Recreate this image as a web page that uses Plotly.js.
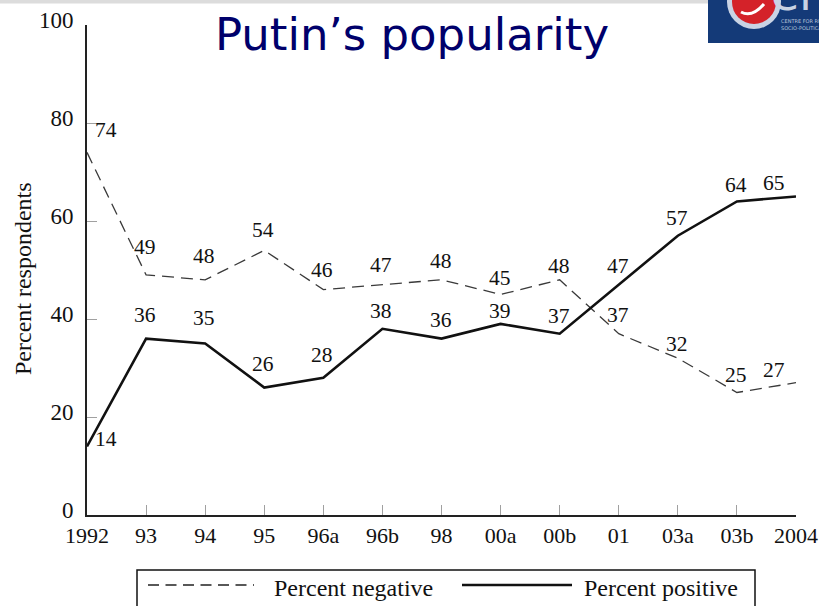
<!DOCTYPE html>
<html><head><meta charset="utf-8">
<script src="https://cdn.plot.ly/plotly-3.0.1.min.js"></script>
<style>html,body{margin:0;padding:0;background:#fff;}#chart{width:819px;height:606px;}</style>
</head><body><div id="chart"></div>
<script>
// ---- data ----
const periods = ['1992','93','94','95','96a','96b','98','00a','00b','01','03a','03b','2004'];
const percentNegative = [74,49,48,54,46,47,48,45,48,37,32,25,27];
const percentPositive = [14,36,35,26,28,38,36,39,37,47,57,64,65];
const yTickValues = [0,20,40,60,80,100];
const seriesNames = ['Percent negative','Percent positive'];

// ---- label offsets (style, px) ----
const negLabelDy = [22,28,24,20,20,20,19,17,14,19,14,18,13];
const posLabelDy = [7,24,26,24,23,18,19,13,18,19,18,16,14];
function labelDx(i){ return i === 0 ? 19 : (i === periods.length-1 ? -22 : -1); }

const SERIF = '"Liberation Serif", "Times New Roman", serif';
const SANS = '"DejaVu Sans", Verdana, sans-serif';
// pixel -> paper helpers (plot area 87..796 x, 25..515 y)
const PL = 87, PR = 796, PT = 25, PB = 515;
const px = p => (p - PL) / (PR - PL);
const py = p => (PB - p) / (PB - PT);

const traces = [
  {x: periods, y: percentNegative, type: 'scatter', mode: 'lines', name: seriesNames[0],
   line: {color: '#3a3a3a', width: 1.3, dash: '12px,7px'}, showlegend: false, hoverinfo: 'skip'},
  {x: periods, y: percentPositive, type: 'scatter', mode: 'lines', name: seriesNames[1],
   line: {color: '#111', width: 2.6}, showlegend: false, hoverinfo: 'skip'}
];

const annotations = [];
// category axis: annotations placed by category index (numeric-looking names would be misread)
percentNegative.forEach((v, i) => annotations.push({
  x: i, y: v, xref: 'x', yref: 'y', text: String(v), showarrow: false,
  xshift: labelDx(i), yshift: negLabelDy[i], xanchor: 'center', yanchor: 'middle',
  font: {family: SERIF, size: 21.5, color: '#111'}
}));
percentPositive.forEach((v, i) => annotations.push({
  x: i, y: v, xref: 'x', yref: 'y', text: String(v), showarrow: false,
  xshift: labelDx(i), yshift: posLabelDy[i], xanchor: 'center', yanchor: 'middle',
  font: {family: SERIF, size: 21.5, color: '#111'}
}));
// y axis title
annotations.push({x: px(23), y: py(279), xref: 'paper', yref: 'paper', text: 'Percent respondents',
  textangle: -90, showarrow: false, xanchor: 'center', yanchor: 'middle',
  font: {family: SERIF, size: 24, color: '#111'}});
// legend texts
annotations.push({x: px(272), y: py(588), xref: 'paper', yref: 'paper', text: seriesNames[0],
  showarrow: false, xanchor: 'left', yanchor: 'middle', font: {family: SERIF, size: 24, color: '#111'}});
annotations.push({x: px(582), y: py(588), xref: 'paper', yref: 'paper', text: seriesNames[1],
  showarrow: false, xanchor: 'left', yanchor: 'middle', font: {family: SERIF, size: 24, color: '#111'}});
// logo texts
annotations.push({x: px(769), y: py(23), xref: 'paper', yref: 'paper', text: 'er',
  showarrow: false, xanchor: 'left', yanchor: 'bottom', font: {family: SANS, size: 46, color: '#c9d3e4'}});
annotations.push({x: px(779), y: py(21), xref: 'paper', yref: 'paper', text: 'CENTRE FOR RUSSIAN',
  showarrow: false, xanchor: 'left', yanchor: 'middle', font: {family: SANS, size: 5, color: '#b9c5da'}});
annotations.push({x: px(779), y: py(28), xref: 'paper', yref: 'paper', text: 'SOCIO-POLITICAL RESEARCH',
  showarrow: false, xanchor: 'left', yanchor: 'middle', font: {family: SANS, size: 5, color: '#b9c5da'}});

const shapes = [
  // top grey band
  {type: 'rect', xref: 'paper', yref: 'paper', x0: px(-2), x1: px(712), y0: py(3.5), y1: py(-2),
   fillcolor: '#dcdcdc', line: {width: 0}, layer: 'above'},
  // logo block
  {type: 'rect', xref: 'paper', yref: 'paper', x0: px(708), x1: px(822), y0: py(43), y1: py(-2),
   fillcolor: '#143a78', line: {width: 0}, layer: 'above'},
  {type: 'circle', xref: 'paper', yref: 'paper', x0: px(727), x1: px(781), y0: py(29), y1: py(-25),
   fillcolor: '#c9d3e4', line: {width: 0}, layer: 'above'},
  {type: 'circle', xref: 'paper', yref: 'paper', x0: px(732), x1: px(776), y0: py(24), y1: py(-20),
   fillcolor: '#d42229', line: {width: 0}, layer: 'above'},
  {type: 'path', xref: 'paper', yref: 'paper', layer: 'above',
   path: 'M ' + px(741) + ' ' + py(12) + ' Q ' + px(752) + ' ' + py(18) + ' ' + px(764) + ' ' + py(4),
   line: {color: '#ffffff', width: 3}},
  // legend box
  {type: 'rect', xref: 'paper', yref: 'paper', x0: px(137), x1: px(755), y0: py(614), y1: py(570),
   fillcolor: 'rgba(0,0,0,0)', line: {color: '#111', width: 1.5}},
  {type: 'line', xref: 'paper', yref: 'paper', x0: px(148), x1: px(254), y0: py(585), y1: py(585),
   line: {color: '#222', width: 1.3, dash: '11px,6.5px'}},
  {type: 'line', xref: 'paper', yref: 'paper', x0: px(462), x1: px(572), y0: py(585), y1: py(585),
   line: {color: '#111', width: 2.6}}
];

const layout = {
  width: 819, height: 606,
  margin: {l: PL, r: 819 - PR, t: PT, b: 606 - PB, pad: 0},
  paper_bgcolor: '#fff', plot_bgcolor: '#fff',
  showlegend: false,
  title: {text: 'Putin\u2019s popularity', x: 0.503, xref: 'container', xanchor: 'center',
    y: 1 - 34/606, yref: 'container', yanchor: 'middle',
    font: {family: SANS, size: 45, color: '#00006b'}},
  xaxis: {type: 'category', range: [0, periods.length - 1], showgrid: false, zeroline: false,
    showline: true, linecolor: '#222', linewidth: 2,
    ticks: 'inside', ticklen: 10, tickcolor: '#a0a0a0', tickwidth: 1,
    tickfont: {family: SERIF, size: 22, color: '#111'}, fixedrange: true},
  yaxis: {range: [0, 100], tickvals: yTickValues, showgrid: false, zeroline: false,
    showline: true, linecolor: '#222', linewidth: 2,
    ticks: 'inside', ticklen: 10, tickcolor: '#a0a0a0', tickwidth: 1,
    ticklabelstandoff: 7, ticklabelshift: -5,
    tickfont: {family: SERIF, size: 23, color: '#111'}, fixedrange: true},
  annotations: annotations,
  shapes: shapes
};

Plotly.newPlot('chart', traces, layout, {staticPlot: true, displayModeBar: false});
</script>
</body></html>
